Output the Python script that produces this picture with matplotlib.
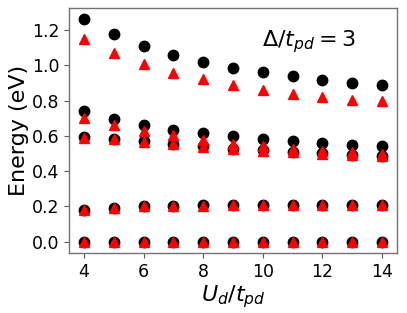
import matplotlib
matplotlib.use("Agg")
import matplotlib.pyplot as plt

ud = [4, 5, 6, 7, 8, 9, 10, 11, 12, 13, 14]

# black circles (exact) and red triangles (model), five lowest levels
e1_black = [1.261, 1.175, 1.109, 1.060, 1.020, 0.986, 0.960, 0.937, 0.916, 0.899, 0.886]
e1_red = [1.147, 1.072, 1.005, 0.958, 0.920, 0.886, 0.859, 0.835, 0.819, 0.801, 0.795]
e2_black = [0.740, 0.698, 0.664, 0.636, 0.617, 0.602, 0.585, 0.573, 0.560, 0.551, 0.541]
e2_red = [0.702, 0.664, 0.630, 0.603, 0.579, 0.555, 0.541, 0.527, 0.515, 0.506, 0.499]
e3_black = [0.592, 0.583, 0.569, 0.555, 0.541, 0.528, 0.518, 0.509, 0.501, 0.494, 0.488]
e3_red = [0.590, 0.580, 0.568, 0.552, 0.538, 0.526, 0.516, 0.507, 0.499, 0.492, 0.487]
e4_black = [0.181, 0.194, 0.201, 0.205, 0.206, 0.207, 0.207, 0.207, 0.207, 0.207, 0.207]
e4_red = [0.178, 0.192, 0.200, 0.204, 0.205, 0.206, 0.206, 0.206, 0.206, 0.206, 0.206]
e5_black = [0.0] * 11
e5_red = [0.0] * 11

blacks = [e1_black, e2_black, e3_black, e4_black, e5_black]
reds = [e1_red, e2_red, e3_red, e4_red, e5_red]

fig = plt.figure(figsize=(4.07, 3.13), dpi=100)
ax = fig.add_axes([0.170, 0.192, 0.805, 0.782])

for b in blacks:
    ax.plot(ud, b, 'o', color='k', markersize=7.5, linestyle='none')
for r in reds:
    ax.plot(ud, r, '^', color='r', markersize=6.5, linestyle='none')

ax.set_xticks([4, 6, 8, 10, 12, 14])
ax.set_yticks([0.0, 0.2, 0.4, 0.6, 0.8, 1.0, 1.2])
ax.tick_params(labelsize=12.5, color='0.35')
for s in ax.spines.values():
    s.set_color('0.45')
    s.set_linewidth(1.0)
ax.set_xlabel(r"$U_d/t_{pd}$", fontsize=16, labelpad=2)
ax.set_ylabel("Energy (eV)", fontsize=16, labelpad=2)
ax.text(0.59, 0.842, r"$\Delta/t_{pd} = 3$", transform=ax.transAxes,
        fontsize=16, va='baseline')

fig.savefig("out.png", dpi=100)
